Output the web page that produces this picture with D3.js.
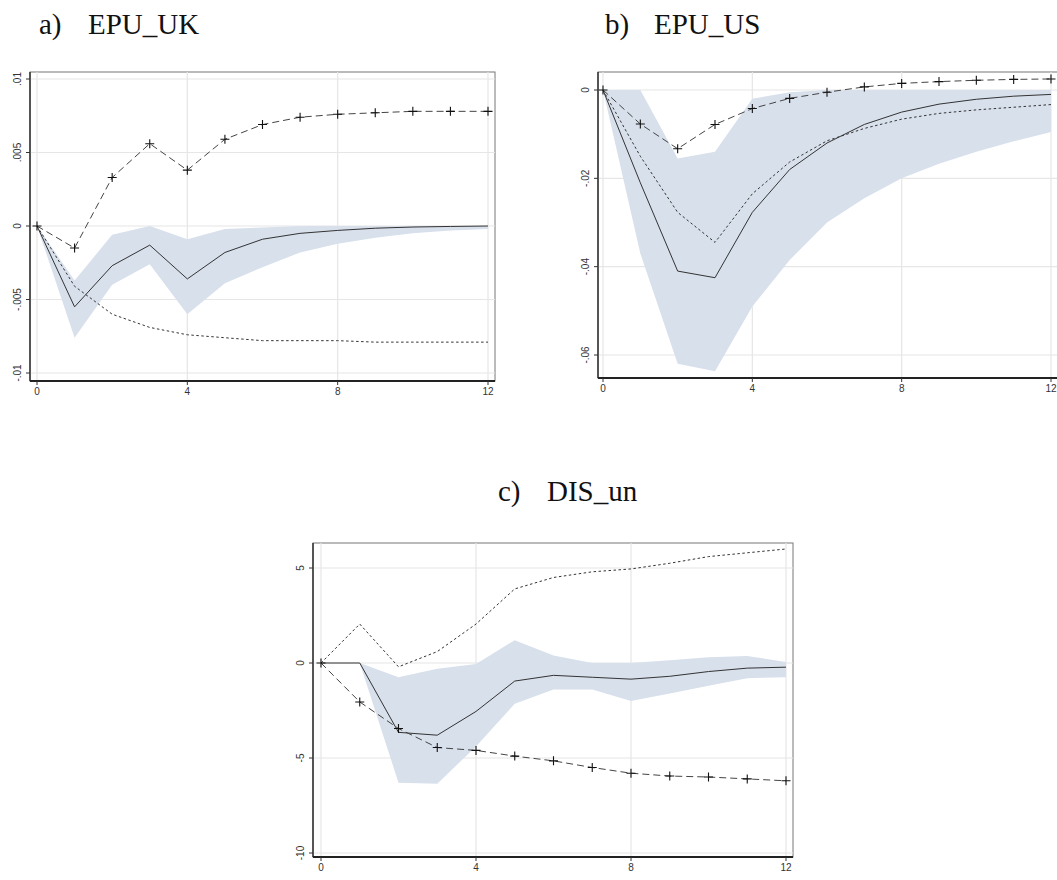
<!DOCTYPE html>
<html>
<head>
<meta charset="utf-8">
<script src="https://cdn.jsdelivr.net/npm/d3@7"></script>
<style>
  body { margin: 0; background: #fff; }
  svg { display: block; }
</style>
</head>
<body>
<div class="canva"></div>
<script>
// horizons 0..12
const steps = [0, 1, 2, 3, 4, 5, 6, 7, 8, 9, 10, 11, 12];
const xTicks = [0, 4, 8, 12];

// a) EPU_UK
const ukIrf   = [0, -0.0055, -0.0027, -0.0013, -0.0036, -0.0018, -0.0009, -0.0005, -0.0003, -0.00015, -0.00007, -0.00003, 0];
const ukLower = [0, -0.0076, -0.0040, -0.0026, -0.0060, -0.0039, -0.0028, -0.0018, -0.0012, -0.0008, -0.0005, -0.0003, -0.0002];
const ukUpper = [0, -0.0037, -0.0006, 0, -0.0009, -0.0002, -0.0001, 0, 0, 0, 0, 0, 0];
const ukPlus  = [0, -0.0015, 0.0033, 0.0056, 0.0038, 0.0059, 0.0069, 0.0074, 0.0076, 0.0077, 0.0078, 0.0078, 0.0078];
const ukShort = [0, -0.0041, -0.0060, -0.0069, -0.0074, -0.0076, -0.0078, -0.0078, -0.0078, -0.0079, -0.0079, -0.0079, -0.0079];
const ukTicks = [0.01, 0.005, 0, -0.005, -0.01];
const ukTickLabels = [".01", ".005", "0", "-.005", "-.01"];

// b) EPU_US
const usIrf   = [0, -0.021, -0.041, -0.0425, -0.0277, -0.018, -0.012, -0.0078, -0.005, -0.0032, -0.0021, -0.0014, -0.001];
const usLower = [0, -0.037, -0.062, -0.0637, -0.049, -0.0385, -0.030, -0.0245, -0.020, -0.0167, -0.014, -0.0116, -0.0095];
const usUpper = [0, 0, -0.0155, -0.014, -0.002, -0.0005, 0, 0, 0, 0, 0, 0, 0];
const usPlus  = [0, -0.0077, -0.0133, -0.0078, -0.0042, -0.0019, -0.0005, 0.0007, 0.0015, 0.0019, 0.0022, 0.0024, 0.0025];
const usShort = [0, -0.015, -0.0277, -0.0345, -0.0235, -0.0163, -0.0115, -0.0087, -0.0066, -0.0053, -0.0045, -0.0039, -0.0033];
const usTicks = [0, -0.02, -0.04, -0.06];
const usTickLabels = ["0", "-.02", "-.04", "-.06"];

// c) DIS_un
const disIrf   = [0, 0, -3.65, -3.8, -2.55, -0.95, -0.65, -0.75, -0.85, -0.7, -0.45, -0.27, -0.22];
const disLower = [null, 0, -6.3, -6.35, -4.4, -2.15, -1.4, -1.4, -2.0, -1.6, -1.2, -0.8, -0.75];
const disUpper = [null, 0, -0.75, -0.3, -0.05, 1.2, 0.4, 0, 0, 0.15, 0.3, 0.37, 0.05];
const disPlus  = [0, -2.05, -3.45, -4.45, -4.6, -4.9, -5.15, -5.5, -5.8, -5.95, -6.0, -6.1, -6.2];
const disShort = [0, 2.05, -0.2, 0.6, 2.05, 3.9, 4.5, 4.8, 4.95, 5.25, 5.6, 5.8, 6.0];
const disTicks = [5, 0, -5, -10];
const disTickLabels = ["5", "0", "-5", "-10"];

const width = 1057, height = 880;

const svg = d3.select(".canva").append("svg")
    .attr("width", width)
    .attr("height", height);

// titles (letter, then name)
const titles = [
    { x: 39, y: 34, t: "a)" }, { x: 88, y: 34, t: "EPU_UK" },
    { x: 605, y: 34, t: "b)" }, { x: 654, y: 34, t: "EPU_US" },
    { x: 498, y: 501, t: "c)" }, { x: 547, y: 501, t: "DIS_un" }
];
svg.append("g").selectAll("text").data(titles).join("text")
    .attr("x", d => d.x).attr("y", d => d.y)
    .style("font", "29px 'Liberation Serif', 'Times New Roman', serif")
    .attr("fill", "#111")
    .text(d => d.t);

function drawPanel(p) {
    const x = d3.scaleLinear().domain([0, 12]).range(p.xRange);
    const y = d3.scaleLinear().domain(p.yDomain).range(p.yRange);
    const g = svg.append("g");

    // outer frame
    g.append("rect")
        .attr("x", p.frame[0]).attr("y", p.frame[1])
        .attr("width", p.frame[2] - p.frame[0]).attr("height", p.frame[3] - p.frame[1])
        .attr("fill", "none").attr("stroke", "#777").attr("stroke-width", 1);

    // grid
    g.append("g").selectAll("line").data(p.yTicks).join("line")
        .attr("x1", p.frame[0]).attr("x2", p.frame[2])
        .attr("y1", d => y(d)).attr("y2", d => y(d))
        .attr("stroke", "#e6e6e6").attr("stroke-width", 1.2);
    g.append("g").selectAll("line").data(xTicks).join("line")
        .attr("x1", d => x(d)).attr("x2", d => x(d))
        .attr("y1", p.frame[1]).attr("y2", p.frame[3])
        .attr("stroke", "#e6e6e6").attr("stroke-width", 1.2);

    // confidence band
    const band = steps.map((s, i) => ({ s: s, lo: p.lower[i], hi: p.upper[i] }));
    g.append("path")
        .datum(band)
        .attr("fill", "#d8e0ec")
        .attr("d", d3.area()
            .defined(d => d.lo !== null)
            .x(d => x(d.s)).y0(d => y(d.lo)).y1(d => y(d.hi)));

    const line = d3.line().x((d, i) => x(steps[i])).y(d => y(d));

    // short dashes
    g.append("path").datum(p.short)
        .attr("fill", "none").attr("stroke", "#333").attr("stroke-width", 1)
        .attr("stroke-dasharray", "2.5,2.5")
        .attr("d", line);

    // irf
    g.append("path").datum(p.irf)
        .attr("fill", "none").attr("stroke", "#333").attr("stroke-width", 1)
        .attr("d", line);

    // long dashes with + markers
    g.append("path").datum(p.plus)
        .attr("fill", "none").attr("stroke", "#444").attr("stroke-width", 1)
        .attr("stroke-dasharray", "7,4")
        .attr("d", line);
    g.append("g").selectAll("path").data(p.plus).join("path")
        .attr("transform", (d, i) => `translate(${x(steps[i])},${y(d)})`)
        .attr("d", "M-4.5,0H4.5M0,-4.5V4.5")
        .attr("stroke", "#111").attr("stroke-width", 1.1);

    // left axis
    g.append("line")
        .attr("x1", p.frame[0]).attr("x2", p.frame[0])
        .attr("y1", p.frame[1]).attr("y2", p.frame[3])
        .attr("stroke", "#333").attr("stroke-width", 1.5);
    g.append("g").selectAll("line").data(p.yTicks).join("line")
        .attr("x1", p.frame[0] - 4).attr("x2", p.frame[0])
        .attr("y1", d => y(d)).attr("y2", d => y(d))
        .attr("stroke", "#333").attr("stroke-width", 1);
    g.append("g").selectAll("text").data(p.yTicks).join("text")
        .attr("transform", d => `translate(${p.frame[0] - 9},${y(d)}) rotate(-90)`)
        .attr("text-anchor", "middle")
        .style("font", "10px 'Liberation Sans', Arial, sans-serif")
        .attr("fill", "#333")
        .text((d, i) => p.yLabels[i]);

    // bottom axis
    g.append("line")
        .attr("x1", p.frame[0]).attr("x2", p.frame[2])
        .attr("y1", p.frame[3]).attr("y2", p.frame[3])
        .attr("stroke", "#222").attr("stroke-width", 2);
    g.append("g").selectAll("line").data(xTicks).join("line")
        .attr("x1", d => x(d)).attr("x2", d => x(d))
        .attr("y1", p.frame[3]).attr("y2", p.frame[3] + 4)
        .attr("stroke", "#333").attr("stroke-width", 1);
    g.append("g").selectAll("text").data(xTicks).join("text")
        .attr("x", d => x(d)).attr("y", p.frame[3] + 14)
        .attr("text-anchor", "middle")
        .style("font", "10px 'Liberation Sans', Arial, sans-serif")
        .attr("fill", "#333")
        .text(d => d);
}

drawPanel({
    frame: [30, 72, 495, 381], xRange: [37, 488],
    yDomain: [-0.01, 0.01], yRange: [373, 79],
    yTicks: ukTicks, yLabels: ukTickLabels,
    irf: ukIrf, lower: ukLower, upper: ukUpper, plus: ukPlus, short: ukShort
});
drawPanel({
    frame: [598, 72, 1064, 378], xRange: [603, 1051],
    yDomain: [-0.06, 0], yRange: [355, 90],
    yTicks: usTicks, yLabels: usTickLabels,
    irf: usIrf, lower: usLower, upper: usUpper, plus: usPlus, short: usShort
});
drawPanel({
    frame: [313, 543, 793, 857], xRange: [321, 786],
    yDomain: [-10, 5], yRange: [853, 568],
    yTicks: disTicks, yLabels: disTickLabels,
    irf: disIrf, lower: disLower, upper: disUpper, plus: disPlus, short: disShort
});
</script>
</body>
</html>
